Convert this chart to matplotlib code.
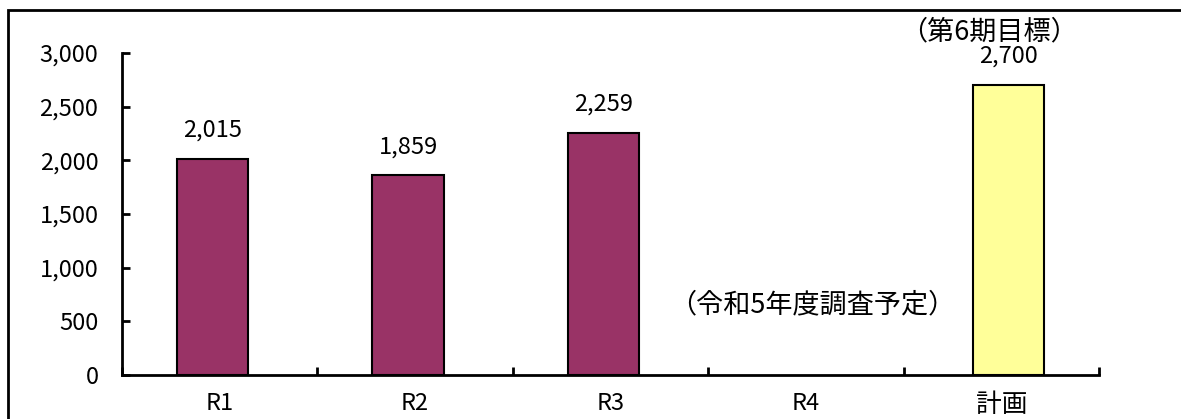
import matplotlib
matplotlib.use("Agg")
import matplotlib.pyplot as plt
import numpy as np
from matplotlib.patches import Rectangle

plt.rcParams['font.family'] = ['Noto Sans CJK JP', 'DejaVu Sans']

categories = ['R1', 'R2', 'R3', 'R4', '計画']
actual = [2015, 1859, 2259, np.nan, np.nan]
plan = [np.nan, np.nan, np.nan, np.nan, 2700]
yticks = [0, 500, 1000, 1500, 2000, 2500, 3000]

fig = plt.figure(figsize=(11.81, 4.19), dpi=100)
ax = fig.add_axes([0.1033, 0.105, 0.8273, 0.7685])

x = np.arange(len(categories)) + 0.5
w = 0.365
off = 0.036
ax.bar(x - off, actual, w, color='#993366', edgecolor='black', linewidth=1.5)
ax.bar(x + off, plan, w, color='#FFFF99', edgecolor='black', linewidth=1.5)

fs = 17
for xi, v in zip(x, actual):
    if not np.isnan(v):
        ax.text(xi - off, v + 265, f"{int(v):,}", ha='center', va='center', fontsize=fs)
for xi, v in zip(x, plan):
    if not np.isnan(v):
        ax.text(xi + off, v + 275, f"{int(v):,}", ha='center', va='center', fontsize=fs)
        ax.text(xi + off - 0.1, v + 495, "（第6期目標）", ha='center', va='center', fontsize=19.5)

ax.text(x[3] + 0.03, 652, "（令和5年度調査予定）", ha='center', va='center', fontsize=19.5)

ax.set_xlim(0, len(categories))
ax.set_ylim(0, 3000)
ax.set_yticks(yticks)
ax.set_yticklabels([f"{t:,}" for t in yticks], fontsize=fs)
ax.set_xticks(x)
ax.set_xticklabels(categories, fontsize=fs)
ax.get_xticklabels()[-1].set_fontsize(18.5)
ax.set_xticks(np.arange(len(categories) + 1), minor=True)
ax.tick_params(axis='x', which='major', length=0, pad=12)
ax.tick_params(axis='x', which='minor', direction='in', length=6, width=2)
ax.tick_params(axis='y', direction='in', length=6, width=2, pad=17)

for s in ['top', 'right']:
    ax.spines[s].set_visible(False)
for s in ['left', 'bottom']:
    ax.spines[s].set_linewidth(2)

fig.patches.append(Rectangle((8 / 1181, -0.1), 1.2, 1 - 10 / 419 + 0.1,
                             transform=fig.transFigure, fill=False,
                             edgecolor='black', linewidth=2))

fig.savefig("out.png", dpi=100)
